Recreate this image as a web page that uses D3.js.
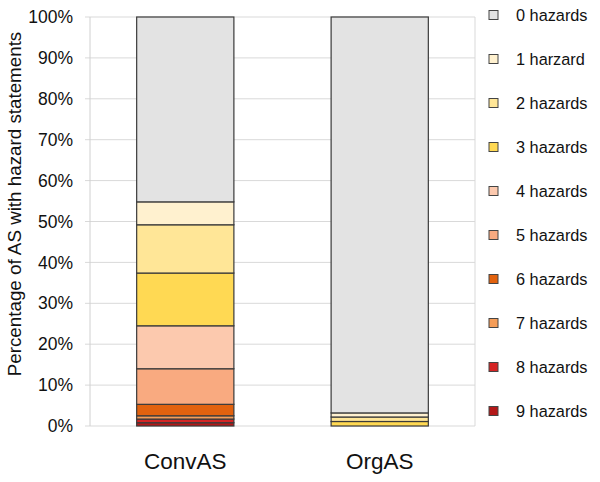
<!DOCTYPE html>
<html>
<head>
<meta charset="utf-8">
<script src="https://cdn.jsdelivr.net/npm/d3@7"></script>
<style>
  html, body { margin: 0; padding: 0; background: #fff; }
  svg { display: block; font-family: "Liberation Sans", Arial, sans-serif; }
</style>
</head>
<body>
<svg id="chart" width="600" height="482"></svg>
<script>
// ---- data ----
const categories = ["ConvAS", "OrgAS"];
const seriesNames = ["0 hazards", "1 harzard", "2 hazards", "3 hazards", "4 hazards",
                     "5 hazards", "6 hazards", "7 hazards", "8 hazards", "9 hazards"];
// percentages per category, in the order of seriesNames
const convAS = [45.2, 5.6, 11.8, 12.9, 10.5, 8.7, 2.8, 0.8, 0.9, 0.8];
const orgAS  = [96.8, 1.0, 1.1, 1.1, 0, 0, 0, 0, 0, 0];
const yTicks = [0, 10, 20, 30, 40, 50, 60, 70, 80, 90, 100];
const colors = ["#e3e3e3", "#fff1cf", "#ffe697", "#ffd953", "#fcc9ae",
                "#f9aa80", "#e2620e", "#f59d58", "#d52424", "#b31818"];

const svg = d3.select("#chart");
const plot = { left: 90, right: 475, top: 17, bottom: 426 };

const x = d3.scaleBand().domain(categories).range([plot.left, plot.right])
  .paddingInner(0.5).paddingOuter(0.24);
const y = d3.scaleLinear().domain([0, 100]).range([plot.bottom, plot.top]);

// grid lines
svg.append("g").selectAll("line").data(yTicks).join("line")
  .attr("x1", plot.left - 5).attr("x2", plot.right)
  .attr("y1", d => y(d)).attr("y2", d => y(d))
  .attr("stroke", "#d9d9d9").attr("stroke-width", 1);
// plot frame (left & right)
svg.append("line").attr("x1", plot.left).attr("x2", plot.left)
  .attr("y1", plot.top).attr("y2", plot.bottom).attr("stroke", "#d0d0d0");
svg.append("line").attr("x1", plot.right).attr("x2", plot.right)
  .attr("y1", plot.top).attr("y2", plot.bottom).attr("stroke", "#d9d9d9");

// y tick labels
svg.append("g").selectAll("text").data(yTicks).join("text")
  .attr("x", 73).attr("y", d => y(d)).attr("dy", "0.35em")
  .attr("text-anchor", "end").attr("font-size", 17.5).attr("fill", "#111")
  .text(d => d + "%");

// y title
svg.append("text")
  .attr("transform", `translate(21,204) rotate(-90)`)
  .attr("text-anchor", "middle").attr("font-size", 18.8).attr("fill", "#111")
  .text("Percentage of AS with hazard statements");

// stacked bars
const rows = categories.map((c, i) => {
  const vals = i === 0 ? convAS : orgAS;
  const o = { cat: c };
  seriesNames.forEach((s, j) => o[s] = vals[j]);
  return o;
});
const stackOrder = seriesNames.slice().reverse(); // 9 hazards at bottom
const stacked = d3.stack().keys(stackOrder)(rows);

svg.append("g").selectAll("g").data(stacked).join("g")
  .attr("fill", d => colors[seriesNames.indexOf(d.key)])
  .selectAll("rect").data(d => d.filter(p => p[1] - p[0] > 0)).join("rect")
  .attr("x", d => x(d.data.cat))
  .attr("width", x.bandwidth())
  .attr("y", d => y(d[1]))
  .attr("height", d => y(d[0]) - y(d[1]))
  .attr("stroke", "#3a3a3a").attr("stroke-width", 1.2);

// category labels
svg.append("g").selectAll("text").data(categories).join("text")
  .attr("x", d => x(d) + x.bandwidth() / 2).attr("y", 469)
  .attr("text-anchor", "middle").attr("font-size", 22.5).attr("fill", "#111")
  .text(d => d);

// legend
const leg = svg.append("g").selectAll("g").data(seriesNames).join("g")
  .attr("transform", (d, i) => `translate(489,${15 + i * 44})`);
leg.append("rect").attr("x", 0).attr("y", -4.5).attr("width", 9).attr("height", 9)
  .attr("fill", (d, i) => colors[i]).attr("stroke", "#444").attr("stroke-width", 1);
leg.append("text").attr("x", 27).attr("y", 0).attr("dy", "0.35em")
  .attr("font-size", 16.3).attr("fill", "#111").text(d => d);
</script>
</body>
</html>
